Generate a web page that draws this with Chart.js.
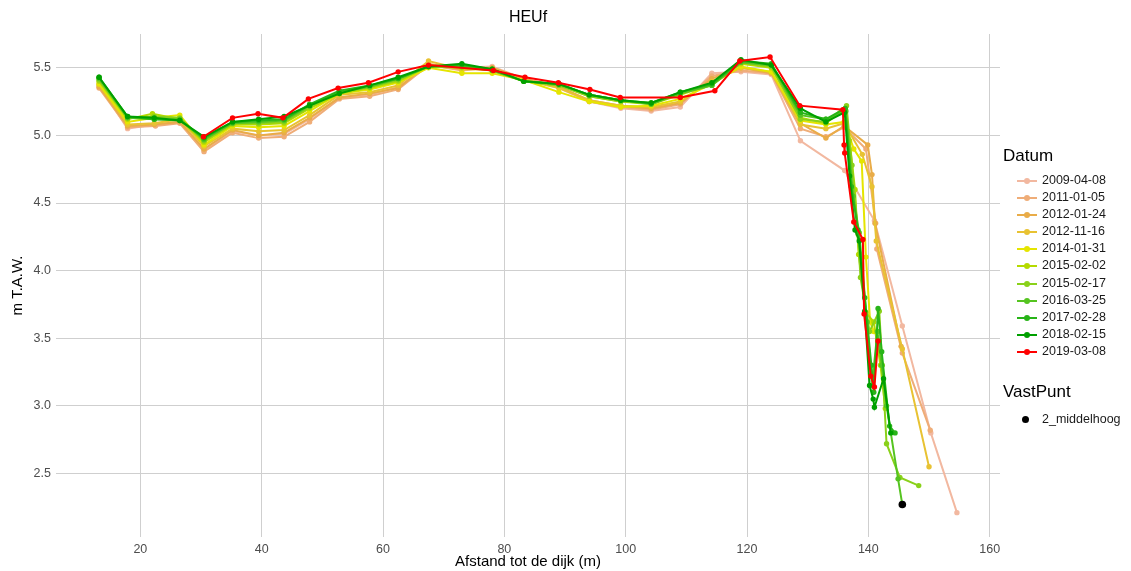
<!DOCTYPE html>
<html>
<head>
<meta charset="utf-8">
<script src="https://cdn.jsdelivr.net/npm/chart.js@4/dist/chart.umd.min.js"></script>
<style>
  body { margin: 0; background: #fff; font-family: "Liberation Sans", Arial, sans-serif; }
  #wrap { position: relative; width: 1131px; height: 571px; }
  #title { position: absolute; left: 56px; width: 944px; top: 8px; text-align: center; font-size: 16px; color: #000; }
  #legend { position: absolute; left: 1003px; top: 146px; color: #000; }
  .lt { font-size: 17px; margin-bottom: 6px; }
  .item { position: relative; height: 17.1px; font-size: 12.5px; line-height: 17.1px; padding-left: 39px; color: #1a1a1a; }
  .key { position: absolute; left: 14px; top: 8px; width: 20px; height: 2px; }
  .dot { position: absolute; left: 21px; top: 6px; width: 6px; height: 6px; border-radius: 50%; }
</style>
</head>
<body>
<div id="wrap">
  <canvas id="chart" width="1131" height="571"></canvas>
  <div id="title">HEUf</div>
  <div id="legend"></div>
</div>
<script>
// survey dates and colours
const dates = ['2009-04-08', '2011-01-05', '2012-01-24', '2012-11-16', '2014-01-31',
  '2015-02-02', '2015-02-17', '2016-03-25', '2017-02-28', '2018-02-15', '2019-03-08'];
const colors = ['#f2b8a0', '#efad78', '#e9ac48', '#e8c232', '#e5e500',
  '#b5da00', '#8ad11a', '#55c420', '#28b418', '#00a000', '#ff0000'];

// profiles: [afstand (m), hoogte (m T.A.W.)]
const s2009 = [[13.2,5.37],[17.9,5.05],[22.3,5.08],[26.5,5.10],[30.5,4.89],[35.2,5.03],[39.5,5.00],[43.7,5.01],[47.9,5.12],[52.8,5.28],[57.8,5.30],[62.5,5.36],[67.5,5.51],[73.0,5.50],[78.0,5.51],[83.2,5.42],[89.0,5.35],[94.0,5.25],[99.2,5.20],[104.2,5.18],[109.0,5.21],[114.2,5.46],[119.0,5.47],[124.0,5.45],[128.8,4.96],[136.1,4.74],[141.0,4.37],[145.6,3.59],[150.3,2.80],[154.6,2.21]];
const s2011 = [[13.2,5.35],[17.9,5.06],[22.5,5.07],[26.5,5.09],[30.5,4.88],[35.2,5.02],[39.5,4.98],[43.7,4.99],[47.9,5.10],[52.8,5.27],[57.8,5.29],[62.5,5.34],[67.5,5.52],[73.0,5.48],[78.0,5.50],[83.2,5.42],[89.0,5.36],[94.0,5.25],[99.2,5.21],[104.2,5.19],[109.0,5.23],[114.2,5.44],[119.0,5.48],[124.0,5.46],[128.8,5.05],[133.0,4.99],[136.0,5.06],[139.6,4.90],[141.2,4.35],[141.4,4.16],[145.6,3.39],[150.2,2.82]];
const s2012a = [[13.2,5.36],[17.9,5.07],[22.3,5.08],[26.5,5.10],[30.5,4.90],[35.2,5.04],[39.5,5.00],[43.7,5.02],[47.9,5.13],[52.8,5.28],[57.8,5.31],[62.5,5.35],[67.5,5.53],[73.0,5.49],[78.0,5.50],[83.2,5.42],[89.0,5.36],[94.0,5.26],[99.2,5.22],[104.2,5.20],[109.0,5.24],[114.2,5.42],[119.0,5.50],[124.0,5.46],[128.8,5.09],[133.0,4.98],[136.0,5.07],[139.9,4.93],[140.6,4.71],[141.1,4.35],[145.4,3.44]];
const s2012b = [[13.2,5.38],[17.9,5.08],[22.3,5.09],[26.5,5.12],[30.5,4.92],[35.2,5.05],[39.5,5.03],[43.7,5.04],[47.9,5.15],[52.8,5.30],[57.8,5.32],[62.5,5.37],[67.5,5.55],[73.0,5.49],[78.0,5.49],[83.2,5.41],[89.0,5.35],[94.0,5.26],[99.2,5.22],[104.2,5.21],[109.0,5.25],[114.2,5.40],[119.0,5.50],[124.0,5.47],[128.8,5.08],[133.0,5.05],[136.0,5.09],[139.0,4.86],[140.6,4.62],[141.3,4.22],[145.6,3.42],[150.0,2.55]];
const s2014 = [[13.2,5.38],[17.9,5.10],[22.3,5.13],[26.5,5.15],[30.5,4.93],[35.2,5.07],[39.5,5.06],[43.7,5.07],[47.9,5.18],[52.8,5.31],[57.8,5.34],[62.5,5.39],[67.5,5.50],[73.0,5.46],[78.0,5.46],[83.2,5.41],[89.0,5.32],[94.0,5.25],[99.2,5.21],[104.2,5.22],[109.0,5.27],[114.2,5.38],[119.0,5.51],[124.0,5.47],[128.8,5.11],[133.0,5.08],[136.0,5.10],[137.6,4.90],[138.9,4.81],[139.6,4.10],[140.3,3.62],[140.9,3.55]];
const s2015a = [[13.2,5.40],[17.9,5.12],[22.0,5.16],[26.5,5.12],[30.5,4.95],[35.2,5.08],[39.5,5.08],[43.7,5.09],[47.9,5.20],[52.8,5.31],[57.8,5.35],[62.5,5.40],[67.5,5.51],[73.0,5.50],[78.0,5.48],[83.2,5.40],[89.0,5.37],[94.0,5.29],[99.2,5.25],[104.2,5.23],[109.0,5.30],[114.2,5.38],[119.0,5.53],[124.0,5.50],[128.8,5.13],[133.0,5.09],[136.2,5.20],[136.9,4.96],[137.8,4.60],[138.4,4.12],[139.6,3.69],[140.9,3.62],[142.0,3.30],[142.8,2.98]];
const s2015b = [[13.2,5.41],[17.9,5.13],[22.3,5.14],[26.5,5.13],[30.5,4.96],[35.2,5.09],[39.5,5.09],[43.7,5.10],[47.9,5.21],[52.8,5.32],[57.8,5.36],[62.5,5.41],[67.5,5.51],[73.0,5.51],[78.0,5.49],[83.2,5.40],[89.0,5.37],[94.0,5.29],[99.2,5.25],[104.2,5.24],[109.0,5.31],[114.2,5.37],[119.0,5.54],[124.0,5.51],[128.8,5.12],[133.0,5.10],[136.4,5.22],[137.3,4.78],[138.3,4.27],[138.7,3.95],[140.2,3.55],[141.8,3.70],[142.3,3.30],[143.0,2.72],[145.2,2.47],[148.3,2.41]];
const s2016 = [[13.2,5.42],[17.9,5.13],[22.3,5.12],[26.5,5.12],[30.5,4.97],[35.2,5.09],[39.5,5.10],[43.7,5.11],[47.9,5.22],[52.8,5.32],[57.8,5.36],[62.5,5.42],[67.5,5.51],[73.0,5.51],[78.0,5.48],[83.2,5.40],[89.0,5.38],[94.0,5.30],[99.2,5.26],[104.2,5.23],[109.0,5.31],[114.2,5.37],[119.0,5.54],[124.0,5.52],[128.8,5.15],[133.0,5.12],[136.3,5.18],[137.5,4.55],[138.5,4.28],[139.8,3.62],[140.6,3.15],[141.5,3.55],[142.2,3.30],[143.0,3.00],[144.9,2.46],[145.6,2.27]];
const s2017 = [[13.2,5.43],[17.9,5.14],[22.3,5.12],[26.5,5.11],[30.5,4.98],[35.2,5.10],[39.5,5.11],[43.7,5.12],[47.9,5.23],[52.8,5.33],[57.8,5.37],[62.5,5.42],[67.5,5.51],[73.0,5.52],[78.0,5.49],[83.2,5.40],[89.0,5.38],[94.0,5.30],[99.2,5.26],[104.2,5.24],[109.0,5.32],[114.2,5.38],[119.0,5.55],[124.0,5.53],[128.8,5.17],[133.0,5.12],[136.2,5.20],[137.2,4.62],[138.3,4.30],[139.4,3.80],[140.5,3.30],[140.9,3.10],[141.6,3.72],[142.2,3.40],[143.5,2.85],[144.4,2.80]];
const s2018 = [[13.2,5.43],[17.9,5.14],[22.3,5.13],[26.5,5.11],[30.5,4.99],[35.2,5.10],[39.5,5.12],[43.7,5.14],[47.9,5.22],[52.8,5.31],[57.8,5.37],[62.5,5.43],[67.5,5.51],[73.0,5.53],[78.0,5.49],[83.2,5.40],[89.0,5.38],[94.0,5.30],[99.2,5.26],[104.2,5.24],[109.0,5.32],[114.2,5.39],[119.0,5.56],[124.0,5.52],[128.8,5.20],[133.0,5.10],[136.1,5.17],[136.9,4.70],[137.8,4.30],[138.5,4.22],[139.4,3.70],[140.2,3.15],[140.8,3.05],[141.0,2.99],[142.5,3.20],[143.7,2.80]];
const s2019 = [[30.4,4.99],[35.2,5.13],[39.4,5.16],[43.5,5.13],[47.7,5.27],[52.6,5.35],[57.6,5.39],[62.5,5.47],[67.5,5.52],[78.2,5.48],[83.4,5.43],[88.9,5.39],[94.1,5.34],[99.1,5.28],[109.0,5.28],[114.7,5.33],[118.8,5.55],[123.8,5.58],[128.7,5.22],[135.8,5.19],[136.0,4.93],[136.1,4.87],[137.6,4.36],[139.1,4.23],[139.3,3.68],[140.4,3.22],[141.0,3.14],[141.6,3.48]];
const series = [s2009, s2011, s2012a, s2012b, s2014, s2015a, s2015b, s2016, s2017, s2018, s2019];

// fixed point (VastPunt)
const vastPuntLabel = '2_middelhoog';
const vastPunt = [[145.6, 2.27]];

const xTicks = [20, 40, 60, 80, 100, 120, 140, 160];
const yTicks = [2.5, 3.0, 3.5, 4.0, 4.5, 5.0, 5.5];

const datasets = series.map((s, i) => ({
  label: dates[i],
  data: s.map(p => ({ x: p[0], y: p[1] })),
  showLine: true,
  borderColor: colors[i],
  backgroundColor: colors[i],
  borderWidth: 2,
  pointRadius: 2.7,
  pointBorderWidth: 0,
  order: series.length - i + 1
}));
datasets.push({
  label: vastPuntLabel,
  data: vastPunt.map(p => ({ x: p[0], y: p[1] })),
  showLine: false,
  backgroundColor: '#000',
  pointRadius: 3.8,
  pointBorderWidth: 0,
  order: 0
});

new Chart(document.getElementById('chart'), {
  type: 'scatter',
  data: { datasets },
  options: {
    responsive: false,
    animation: false,
    layout: { padding: { left: 9, right: 131, top: 34, bottom: 0 } },
    plugins: { legend: { display: false }, tooltip: { enabled: false } },
    scales: {
      x: {
        type: 'linear', min: 6.1, max: 161.7,
        afterBuildTicks: s => { s.ticks = xTicks.map(v => ({ value: v })); },
        afterFit: s => { s.height = 34; },
        grid: { color: '#cfcfcf', lineWidth: 1, drawTicks: false },
        border: { display: false },
        ticks: { color: '#4d4d4d', font: { size: 12.5, family: 'Liberation Sans' }, padding: 5 },
        title: { display: true, text: 'Afstand tot de dijk (m)', color: '#000',
          font: { size: 15, family: 'Liberation Sans' }, padding: { top: 3, bottom: 0 } }
      },
      y: {
        type: 'linear', min: 2.03, max: 5.75,
        afterBuildTicks: s => { s.ticks = yTicks.map(v => ({ value: v })); },
        afterFit: s => { s.width = 47; },
        grid: { color: '#cfcfcf', lineWidth: 1, drawTicks: false },
        border: { display: false },
        ticks: { color: '#4d4d4d', font: { size: 12.5, family: 'Liberation Sans' }, padding: 5,
          callback: v => v.toFixed(1) },
        title: { display: true, text: 'm T.A.W.', color: '#000',
          font: { size: 15, family: 'Liberation Sans' }, padding: { top: 0, bottom: 2 } }
      }
    }
  }
});

// legend, built from the same arrays
const leg = document.getElementById('legend');
let html = '<div class="lt">Datum</div>';
dates.forEach((d, i) => {
  html += '<div class="item"><span class="key" style="background:' + colors[i] + '"></span>' +
    '<span class="dot" style="background:' + colors[i] + '"></span>' + d + '</div>';
});
html += '<div class="lt" style="margin-top:22px;margin-bottom:9px">VastPunt</div>';
html += '<div class="item"><span class="dot" style="background:#000;left:19px;width:7px;height:7px;top:5px"></span>' + vastPuntLabel + '</div>';
leg.innerHTML = html;
</script>
</body>
</html>
